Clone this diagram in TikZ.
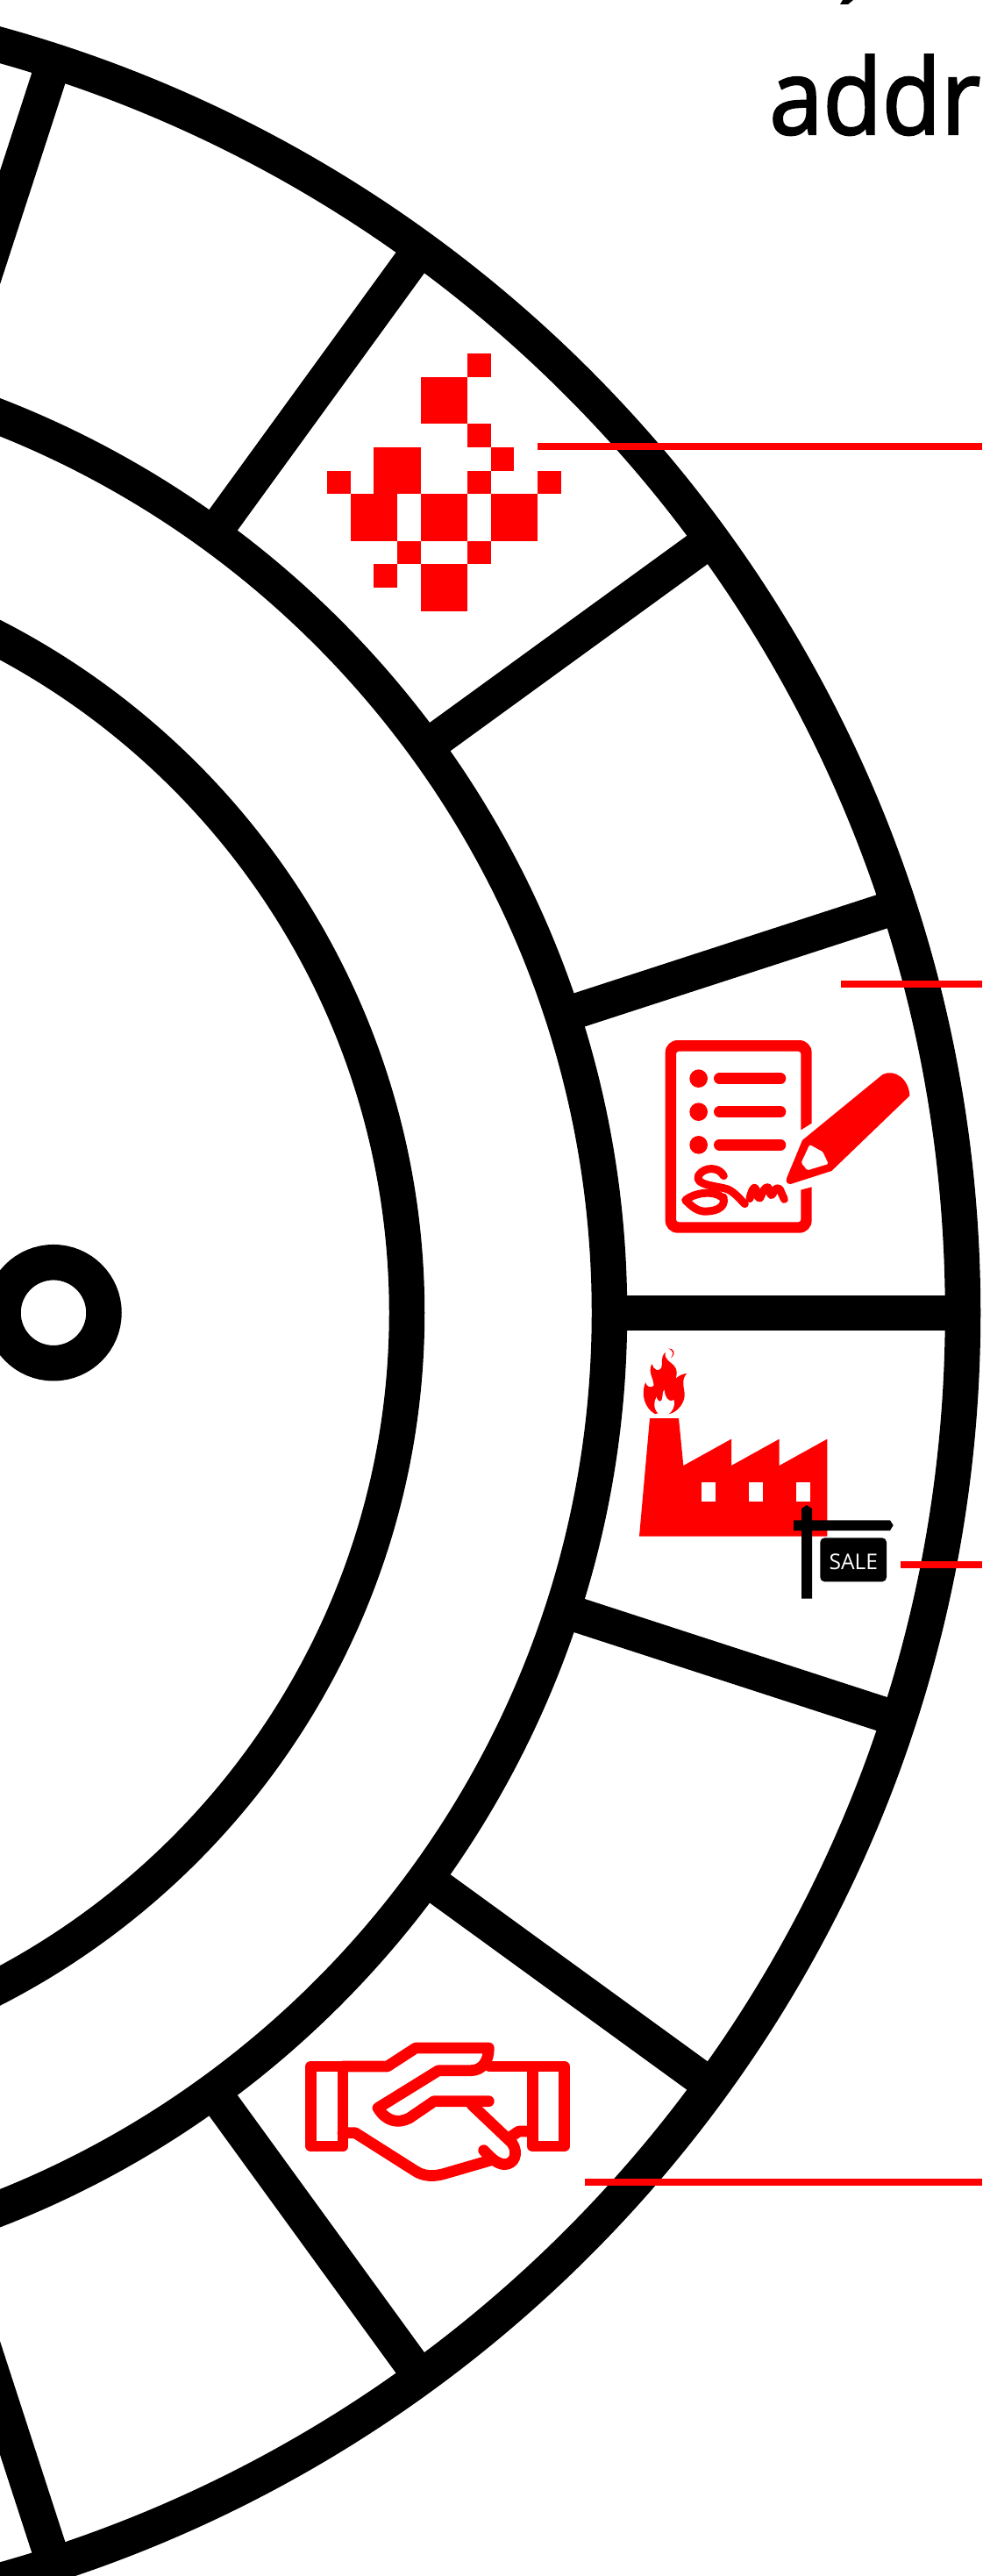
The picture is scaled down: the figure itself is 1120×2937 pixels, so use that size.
\documentclass[tikz,border=0pt]{standalone}
\usepackage{fontspec}
\setmainfont{Open Sans}
\newfontfamily\wordfont[FakeStretch=0.92, FakeBold=2]{Open Sans}
\usepackage{tikz}
\usetikzlibrary{positioning, calc}

\begin{document}
\begin{tikzpicture}[
    x=0.02cm, y=-0.02cm,
    ring/.style={draw=black, line width=0.81cm},
    spoke/.style={draw=black, line width=0.8cm},
    leader/.style={draw=red, line width=0.16cm},
    iconline/.style={draw=red, line width=0.255cm, line cap=round, line join=round},
    signature/.style={draw=red, line width=0.18cm, line cap=round, line join=round},
    listline/.style={draw=red, line width=0.253cm, line cap=round},
    word/.style={inner sep=0pt, font=\wordfont\fontsize{68}{80}\selectfont},
    saletext/.style={inner sep=0pt, text=white, font=\fontsize{14}{16}\selectfont}
  ]
  \useasboundingbox (0,0) rectangle (1120,2937);
  \clip (0,0) rectangle (1120,2937);

  % Rings
  \begin{scope}[shift={(-402,1496.7)}]
    \draw[ring] (0,0) circle[radius=1500];
    \draw[ring] (0,0) circle[radius=1097];
    \draw[ring] (0,0) circle[radius=866];
    \draw[ring] (463,0) circle[radius=57.5];
    % Spokes
    \foreach \a in {-72,-54,...,72} {
      \draw[spoke] (\a:1097) -- (\a:1500);
    }
  \end{scope}

  % Pixel icon
  \foreach \i/\j/\w/\h in {6/0/1/1, 4/1/2/2, 6/3/1/1, 7/4/1/1, 2/4/2/2, 0/5/1/1, 6/5/1/1, 9/5/1/1,
                           1/6/2/2, 4/6/2/2, 7/6/2/2, 3/8/1/1, 6/8/1/1, 2/9/1/1, 4/9/2/2} {
    \fill[red] ({372.8+26.7*\i},{403+26.7*\j}) rectangle ({372.8+26.7*(\i+\w)},{403+26.7*(\j+\h)});
  }

  % Document icon
  \begin{scope}[shift={(720,1150)}, scale=1/3]
    \fill[red] (617,392) [rounded corners=0.28cm] -- (617,108) -- (116,108) -- (116,767) -- (617,767)
      [sharp corners] -- (617,610) -- (580,620) [rounded corners=0.06cm] -- (580,730) -- (153,730)
      -- (153,146) -- (580,146) [sharp corners] -- (580,415) -- cycle;
    \foreach \y in {239,353,466} {
      \fill[red] (230,\y) circle[radius=31];
      \draw[listline] (301,\y) -- (510,\y);
    }
    % Signature
    \draw[signature] (316,572) .. controls (300,540) and (250,540) .. (230,570)
      .. controls (215,605) and (290,605) .. (330,618) .. controls (355,630) and (370,650) .. (388,668);
    \draw[signature] (315,645) .. controls (325,685) and (280,695) .. (245,693)
      .. controls (220,690) and (200,670) .. (185,655) .. controls (215,630) and (280,620) .. (310,645);
    \draw[signature] (405,650) .. controls (410,625) and (420,605) .. (425,615)
      .. controls (430,630) and (430,650) .. (440,648) .. controls (450,625) and (460,605) .. (468,612)
      .. controls (475,625) and (475,645) .. (483,635) .. controls (490,615) and (500,610) .. (508,618)
      -- (523,652);
    % Pencil
    \fill[red] (585,450) -- (860,225) .. controls (900,205) and (950,240) .. (952,298)
      -- (685,555) -- (545,600) .. controls (530,600) and (528,590) .. (532,578) -- cycle;
    \fill[white, rounded corners=0.03cm] (610,465) -- (655,490) -- (674,531) -- (602,553) -- (581,527) -- cycle;
  \end{scope}

  % Factory
  \begin{scope}[shift={(700,1520)}, scale=1/3]
    \fill[red] (87,695) -- (123,291) -- (222,291) -- (238,453) -- (402,362) -- (402,453)
      -- (566,362) -- (566,453) -- (730,362) -- (730,695) -- cycle;
    \foreach \x in {300,462,624} {
      \fill[white] (\x,511) rectangle ({\x+47},575);
    }
    % Flame
    \fill[red] (140,276) .. controls (105,255) and (92,210) .. (108,168)
      .. controls (112,185) and (128,188) .. (136,180) .. controls (138,155) and (115,135) .. (130,105)
      .. controls (135,125) and (155,135) .. (163,118) .. controls (168,100) and (158,85) .. (176,65)
      .. controls (172,90) and (190,95) .. (205,110) .. controls (220,125) and (215,145) .. (212,155)
      .. controls (222,145) and (238,138) .. (250,138) .. controls (232,155) and (238,180) .. (242,205)
      .. controls (245,235) and (220,270) .. (188,277) -- (165,272) -- cycle;
    \fill[red] (187,52) .. controls (205,52) and (215,70) .. (195,85) .. controls (207,70) and (202,60) .. (187,52) -- cycle;
    \fill[white] (155,278) .. controls (135,260) and (135,235) .. (146,218)
      .. controls (148,232) and (160,238) .. (164,228) .. controls (168,215) and (165,205) .. (172,193)
      .. controls (175,215) and (185,240) .. (205,228) .. controls (212,250) and (200,268) .. (186,278) -- cycle;
  \end{scope}

  % Sale sign
  \begin{scope}[shift={(700,1520)}, scale=1/3]
    \fill[black] (642,908) -- (642,600) -- (660,588) -- (678,600) -- (678,908) -- cycle;
    \fill[black] (615,640) -- (945,640) -- (956,657) -- (945,675) -- (615,675) -- cycle;
    \fill[black, rounded corners=0.1cm] (706,700) rectangle (933,850);
    \node[saletext] (sale) at (820,781) {SALE};
  \end{scope}

  % Handshake
  \begin{scope}[shift={(330,2300)}, scale=1/3]
    \draw[iconline] (74,168) rectangle (183,441);
    \draw[iconline] (832,168) rectangle (940,441);
    \draw[iconline] (183,168) -- (335,168) -- (432,105) -- (682,105)
      .. controls (682,150) and (660,182) .. (620,182) -- (510,182) -- (303,310)
      .. controls (330,355) and (370,365) .. (410,345) -- (495,287) -- (682,287);
    \draw[iconline] (685,168) -- (832,168);
    \draw[iconline] (183,395) -- (225,395) -- (430,525) .. controls (460,545) and (495,545) .. (530,535) -- (695,487);
    \draw[iconline] (625,300) -- (762,430) .. controls (785,465) and (770,503) .. (735,503)
      .. controls (705,500) and (685,475) .. (665,455);
    \draw[iconline] (832,390) -- (785,390) -- (755,410);
  \end{scope}

  % Leader lines
  \coordinate (pixelend) at (613,509);
  \coordinate (pixeledge) at (1120,509);
  \coordinate (docend) at (959,1122);
  \coordinate (docedge) at (1120,1122);
  \coordinate (saleend) at (1027,1784);
  \coordinate (saleedge) at (1120,1784);
  \coordinate (handend) at (667,2488);
  \coordinate (handedge) at (1120,2488);
  \draw[leader] (pixelend) -- (pixeledge);
  \draw[leader] (docend) -- (docedge);
  \draw[leader] (saleend) -- (saleedge);
  \draw[leader] (handend) -- (handedge);

  % Text at the top
  \fill[black] (961,0) -- (973,0) -- (967,5) -- (958,5) -- cycle;
  \node[word, anchor=base west] (addr) at (877,153) {addr};
\end{tikzpicture}
\end{document}
